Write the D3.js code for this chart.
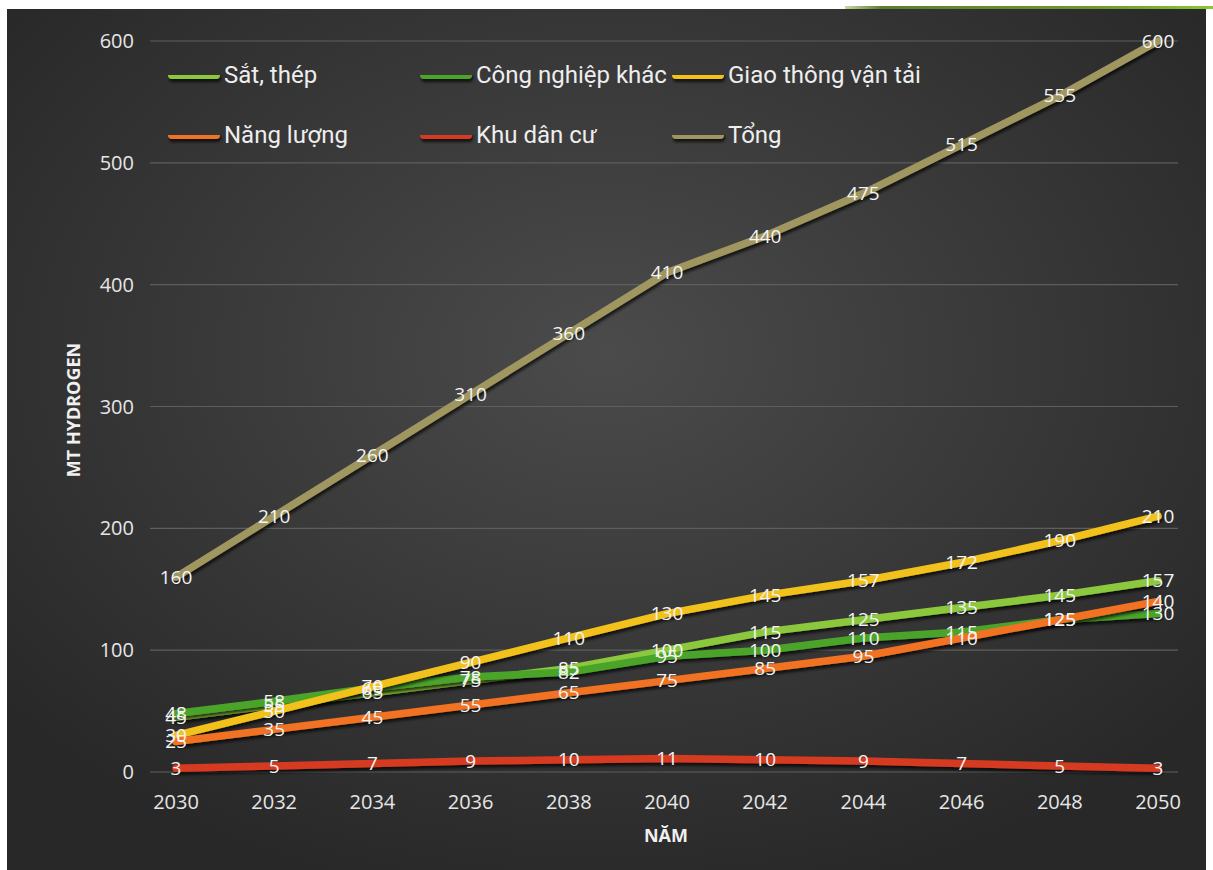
<!DOCTYPE html>
<html>
<head>
<meta charset="utf-8">
<script src="https://cdn.jsdelivr.net/npm/d3@7"></script>
<style>
  html, body { margin: 0; padding: 0; background: #fff; }
  #wrapper { width: 1213px; height: 870px; }
</style>
</head>
<body>
<div id="wrapper"></div>
<script>
const years = [2030, 2032, 2034, 2036, 2038, 2040, 2042, 2044, 2046, 2048, 2050]
const seriesNames = ["Sắt, thép", "Công nghiệp khác", "Giao thông vận tải", "Năng lượng", "Khu dân cư", "Tổng"]
const satThep = [45, 55, 65, 75, 85, 100, 115, 125, 135, 145, 157]
const congNghiep = [48, 58, 69, 78, 82, 95, 100, 110, 115, 125, 130]
const giaoThong = [30, 50, 70, 90, 110, 130, 145, 157, 172, 190, 210]
const nangLuong = [25, 35, 45, 55, 65, 75, 85, 95, 110, 125, 140]
const khuDanCu = [3, 5, 7, 9, 10, 11, 10, 9, 7, 5, 3]
const tong = [160, 210, 260, 310, 360, 410, 440, 475, 515, 555, 600]
const yTicks = [0, 100, 200, 300, 400, 500, 600]
const colors = ["#8cc83c", "#4ca42c", "#f2c11c", "#f07222", "#d63a20", "#a09660"]

const allValues = [satThep, congNghiep, giaoThong, nangLuong, khuDanCu, tong]
const series = seriesNames.map((name, i) => ({
  name: name,
  color: colors[i],
  values: years.map((y, j) => ({ year: y, value: allValues[i][j] }))
}))

const width = 1213
const height = 870
const font = "'Open Sans', 'Noto Sans', sans-serif"

const svg = d3.select("#wrapper")
  .append("svg")
  .attr("width", width)
  .attr("height", height)

const defs = svg.append("defs")
const bg = defs.append("radialGradient")
  .attr("id", "bg")
  .attr("cx", "50%").attr("cy", "40%").attr("r", "65%")
bg.append("stop").attr("offset", "0%").attr("stop-color", "#4b4b4b")
bg.append("stop").attr("offset", "100%").attr("stop-color", "#282828")

const shadow = defs.append("filter").attr("id", "shadow")
  .attr("filterUnits", "userSpaceOnUse")
  .attr("x", 0).attr("y", 0).attr("width", width).attr("height", height)
shadow.append("feDropShadow")
  .attr("dx", 1).attr("dy", 3).attr("stdDeviation", 1.5)
  .attr("flood-color", "#000").attr("flood-opacity", 0.7)

const topBar = defs.append("linearGradient").attr("id", "topbar")
topBar.append("stop").attr("offset", "0%").attr("stop-color", "#c8d8a0")
topBar.append("stop").attr("offset", "10%").attr("stop-color", "#5b7f2a")
topBar.append("stop").attr("offset", "70%").attr("stop-color", "#6e9a2e")
topBar.append("stop").attr("offset", "100%").attr("stop-color", "#8cc43c")

// background panel
svg.append("rect")
  .attr("x", 7).attr("y", 9)
  .attr("width", 1199).attr("height", 861)
  .attr("fill", "url(#bg)")
svg.append("rect")
  .attr("x", 845).attr("y", 6)
  .attr("width", 368).attr("height", 3)
  .attr("fill", "url(#topbar)")

const x = d3.scaleLinear()
  .domain([2030, 2050])
  .range([176, 1158])

const y = d3.scaleLinear()
  .domain([0, 600])
  .range([772, 41])

// gridlines
svg.append("g")
  .selectAll("line")
  .data(yTicks)
  .enter().append("line")
  .attr("x1", 150).attr("x2", 1178)
  .attr("y1", d => y(d)).attr("y2", d => y(d))
  .style("stroke", "#5e5e5e")
  .style("stroke-width", 1.2)

// y tick labels
svg.append("g")
  .selectAll("text")
  .data(yTicks)
  .enter().append("text")
  .attr("x", 134)
  .attr("y", d => y(d))
  .attr("dy", "0.35em")
  .attr("text-anchor", "end")
  .style("font-family", font)
  .style("font-size", "20px")
  .style("fill", "#e6e6e6")
  .text(d => d)

// x tick labels
svg.append("g")
  .selectAll("text")
  .data(years)
  .enter().append("text")
  .attr("x", d => x(d))
  .attr("y", 802)
  .attr("dy", "0.35em")
  .attr("text-anchor", "middle")
  .style("font-family", font)
  .style("font-size", "20px")
  .style("fill", "#e6e6e6")
  .text(d => d)

// axis titles
svg.append("text")
  .attr("x", 666).attr("y", 836)
  .attr("dy", "0.35em")
  .attr("text-anchor", "middle")
  .style("font-family", font)
  .style("font-size", "18px")
  .style("font-weight", "bold")
  .style("fill", "#f0f0f0")
  .text("NĂM")

svg.append("text")
  .attr("transform", "translate(74, 410) rotate(-90)")
  .attr("dy", "0.35em")
  .attr("text-anchor", "middle")
  .style("font-family", font)
  .style("font-size", "18px")
  .style("font-weight", "bold")
  .style("fill", "#f0f0f0")
  .text("MT HYDROGEN")

// lines
const line = d3.line()
  .x(d => x(d.year))
  .y(d => y(d.value))

svg.append("g")
  .selectAll("path")
  .data(series)
  .enter().append("path")
  .attr("d", d => line(d.values))
  .attr("fill", "none")
  .attr("stroke", d => d.color)
  .attr("stroke-width", 7.5)
  .attr("stroke-linecap", "round")
  .attr("stroke-linejoin", "round")
  .attr("filter", "url(#shadow)")

// data labels
const labels = svg.append("g")
series.forEach(s => {
  labels.selectAll(null)
    .data(s.values)
    .enter().append("text")
    .attr("x", d => x(d.year))
    .attr("y", d => y(d.value))
    .attr("dy", "0.35em")
    .attr("text-anchor", "middle")
    .style("font-family", font)
    .style("font-size", "19px")
    .style("fill", "#f4f4f4")
    .text(d => d.value)
})

// legend
const legendX = [168, 420, 672]
const legendY = [75, 135]
const legend = svg.append("g")
  .selectAll("g")
  .data(series)
  .enter().append("g")
  .attr("transform", (d, i) => `translate(${legendX[i % 3]}, ${legendY[Math.floor(i / 3)]})`)

legend.append("rect")
  .attr("x", 0).attr("y", -4)
  .attr("width", 52).attr("height", 8)
  .attr("rx", 4)
  .attr("fill", d => d.color)
  .attr("filter", "url(#shadow)")

legend.append("text")
  .attr("x", 56)
  .attr("dy", "0.35em")
  .style("font-family", "'Roboto', 'Liberation Sans', sans-serif")
  .style("font-size", "24px")
  .style("fill", "#eeeeee")
  .text(d => d.name)
</script>
</body>
</html>
